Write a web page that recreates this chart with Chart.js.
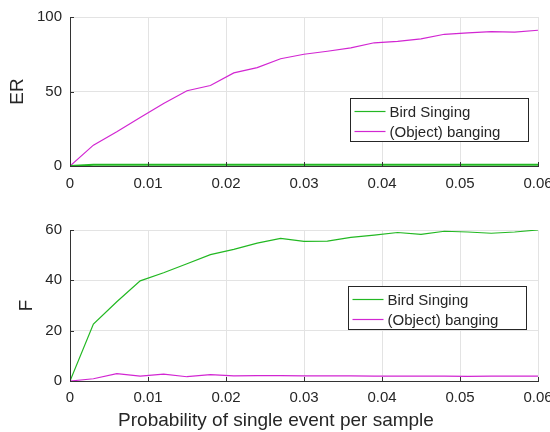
<!DOCTYPE html>
<html>
<head>
<meta charset="utf-8">
<script src="https://cdn.jsdelivr.net/npm/chart.js@4.4.1/dist/chart.umd.min.js"></script>
<style>
  body { margin: 0; background: #fff; }
  canvas { position: absolute; left: 0; }
  #erChart { top: 0; }
  #fChart { top: 200px; }
</style>
</head>
<body>
<canvas id="erChart" width="550" height="200"></canvas>
<canvas id="fChart" width="550" height="232"></canvas>
<script>
// probability of single event per sample
const probs = [0, 0.003, 0.006, 0.009, 0.012, 0.015, 0.018, 0.021, 0.024, 0.027, 0.03,
               0.033, 0.036, 0.039, 0.042, 0.045, 0.048, 0.051, 0.054, 0.057, 0.06]
const seriesNames = ['Bird Singing', '(Object) banging']

// ER panel
const erBird = [0, 0.8, 0.8, 0.8, 0.8, 0.8, 0.8, 0.8, 0.8, 0.8, 0.8,
                0.8, 0.8, 0.8, 0.8, 0.8, 0.8, 0.8, 0.8, 0.8, 0.8]
const erBanging = [0, 14, 23, 32.5, 42, 50.5, 54, 62.5, 66, 72, 75,
                   77, 79.3, 82.7, 83.6, 85.3, 88.4, 89.3, 90.2, 89.8, 91.1]

// F panel
const fBird = [0, 22.6, 31.5, 39.8, 43, 46.6, 50.2, 52.3, 54.8, 56.7, 55.5,
               55.6, 57.1, 58, 59, 58.3, 59.5, 59.2, 58.7, 59.2, 60]
const fBanging = [0, 0.9, 2.9, 1.9, 2.7, 1.7, 2.5, 2.0, 2.1, 2.1, 2.0,
                  2.0, 2.0, 1.9, 1.9, 1.9, 1.9, 1.8, 1.9, 1.9, 1.9]

const xTickLabels = ['0', '0.01', '0.02', '0.03', '0.04', '0.05', '0.06']
const erTickLabels = ['0', '50', '100']
const fTickLabels = ['0', '20', '40', '60']
const xTitle = 'Probability of single event per sample'

const GREEN = '#22b822'
const MAGENTA = '#d226d2'
const TEXT = '#262626'
const FONT = "'Liberation Sans', Arial, sans-serif"

// ticks pointing into the plot, like matlab
const inwardTicks = {
    id: 'inwardTicks',
    afterDatasetsDraw(chart) {
        const ctx = chart.ctx
        const area = chart.chartArea
        const xs = chart.scales.x, ys = chart.scales.y
        ctx.save()
        ctx.strokeStyle = '#333'
        ctx.lineWidth = 1
        ctx.beginPath()
        xs.ticks.forEach(t => {
            const px = Math.round(xs.getPixelForValue(t.value)) + 0.5
            ctx.moveTo(px, area.bottom)
            ctx.lineTo(px, area.bottom - 4)
        })
        ys.ticks.forEach(t => {
            const py = Math.round(ys.getPixelForValue(t.value)) + 0.5
            ctx.moveTo(area.left, py)
            ctx.lineTo(area.left + 4, py)
        })
        ctx.stroke()
        ctx.restore()
    }
}

// boxed legend inside the plot area
const boxLegend = {
    id: 'boxLegend',
    afterDatasetsDraw(chart, args, opts) {
        const ctx = chart.ctx
        const area = chart.chartArea
        const left = Math.round(area.right - opts.fromRight) + 0.5
        const top = Math.round(area.top + opts.fromTop) + 0.5
        const w = 178, h = 43
        ctx.save()
        ctx.fillStyle = '#fff'
        ctx.fillRect(left, top, w, h)
        ctx.strokeStyle = '#262626'
        ctx.lineWidth = 1
        ctx.strokeRect(left, top, w, h)
        ctx.font = '15px ' + FONT
        ctx.textBaseline = 'middle'
        chart.data.datasets.forEach((ds, i) => {
            const y = Math.round(top + 12 + i * 20) + 0.5
            ctx.strokeStyle = ds.borderColor
            ctx.lineWidth = 1.2
            ctx.beginPath()
            ctx.moveTo(left + 4, y)
            ctx.lineTo(left + 35, y)
            ctx.stroke()
            ctx.fillStyle = TEXT
            ctx.fillText(ds.label, left + 39, y + 1)
        })
        ctx.restore()
    }
}

// x label sits a bit left of the axes centre in the original
const bottomTitle = {
    id: 'bottomTitle',
    afterDraw(chart, args, opts) {
        if (!opts.text) return
        const ctx = chart.ctx
        ctx.save()
        ctx.font = '19px ' + FONT
        ctx.fillStyle = TEXT
        ctx.textAlign = 'center'
        ctx.textBaseline = 'middle'
        ctx.fillText(opts.text, opts.x, opts.y)
        ctx.restore()
    }
}

function points(ys) {
    return probs.map((p, i) => ({ x: p, y: ys[i] }))
}

function makeChart(id, cfg) {
    return new Chart(document.getElementById(id), {
        type: 'line',
        data: {
            datasets: [
                { label: seriesNames[0], data: points(cfg.bird), borderColor: GREEN, borderWidth: cfg.birdWidth, pointRadius: 0, tension: 0 },
                { label: seriesNames[1], data: points(cfg.banging), borderColor: MAGENTA, borderWidth: 1.2, pointRadius: 0, tension: 0 }
            ]
        },
        options: {
            responsive: false,
            animation: false,
            layout: { padding: { top: cfg.padTop, right: 12, left: 0, bottom: 0 } },
            plugins: {
                legend: { display: false },
                tooltip: { enabled: false },
                boxLegend: cfg.legend,
                bottomTitle: cfg.xTitle
            },
            scales: {
                x: {
                    type: 'linear',
                    min: 0, max: 0.06,
                    afterBuildTicks: s => { s.ticks = xTickLabels.map(v => ({ value: parseFloat(v) })) },
                    afterFit: s => {
                        s.height = cfg.xHeight
                        s.paddingLeft = 0
                        s.paddingRight = 0
                    },
                    ticks: {
                        callback: (v, i) => xTickLabels[i],
                        color: TEXT, padding: cfg.xTickPad, maxRotation: 0,
                        font: { family: FONT, size: 15 }
                    },
                    grid: { color: '#e3e3e3', drawTicks: false },
                    border: { color: '#333' }
                },
                y: {
                    min: 0, max: cfg.yMax,
                    afterBuildTicks: s => { s.ticks = cfg.yTicks.map(v => ({ value: parseFloat(v) })) },
                    afterFit: s => { s.width = 70 },
                    ticks: {
                        callback: (v, i) => cfg.yTicks[i],
                        color: TEXT, padding: 8,
                        font: { family: FONT, size: 15 }
                    },
                    grid: { color: '#e3e3e3', drawTicks: false },
                    border: { color: '#333' },
                    title: {
                        display: true,
                        text: cfg.yTitle,
                        color: TEXT,
                        font: { family: FONT, size: 19 },
                        padding: { top: cfg.yTitlePad, bottom: 0 }
                    }
                }
            }
        },
        plugins: [inwardTicks, boxLegend, bottomTitle]
    })
}

makeChart('erChart', {
    bird: erBird, banging: erBanging, birdWidth: 2,
    yMax: 100, yTicks: erTickLabels, yTitle: 'ER', yTitlePad: 6.5,
    padTop: 16, xHeight: 34, xTickPad: 9,
    xTitle: { text: null },
    legend: { fromRight: 188, fromTop: 81 }
})

makeChart('fChart', {
    bird: fBird, banging: fBanging, birdWidth: 1.2,
    yMax: 60, yTicks: fTickLabels, yTitle: 'F', yTitlePad: 15.5,
    padTop: 30, xHeight: 51, xTickPad: 8,
    xTitle: { text: xTitle, x: 276, y: 221 },
    legend: { fromRight: 190, fromTop: 56 }
})
</script>
</body>
</html>
